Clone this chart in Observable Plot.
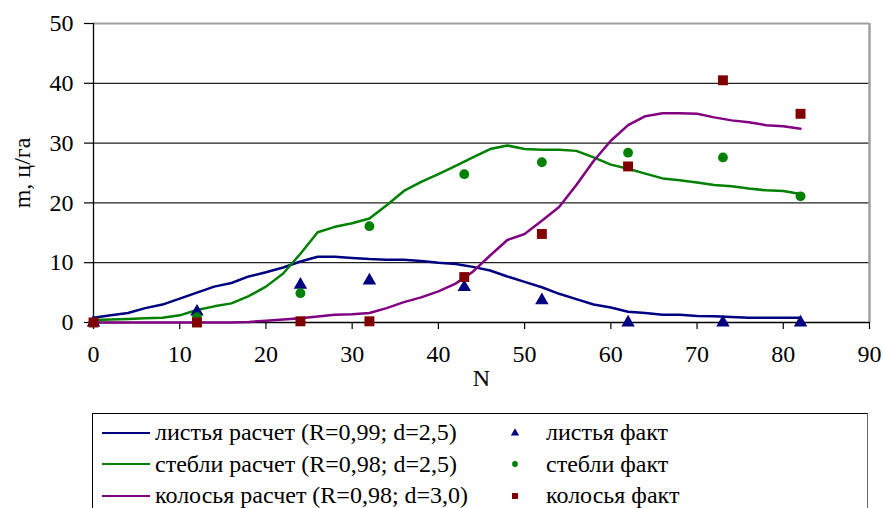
<!DOCTYPE html>
<html>
<head>
<meta charset="utf-8">
<script src="https://cdn.jsdelivr.net/npm/d3@7"></script>
<script src="https://cdn.jsdelivr.net/npm/@observablehq/plot@0.6"></script>
<style>
  html, body { margin: 0; padding: 0; background: #fff; }
  #wrap { position: relative; width: 883px; height: 508px; overflow: hidden; font-family: "Liberation Serif", "Times New Roman", serif; }
  #legend { position: absolute; left: 92px; top: 413px; width: 774px; height: 120px; border: 1px solid #000; border-right: 1px solid #666; box-sizing: content-box; padding-top: 3px; }
  .row { display: flex; align-items: center; height: 31.5px; font-size: 24px; color: #000; white-space: nowrap; }
  .ls { width: 48px; margin-left: 9px; margin-right: 5px; height: 0; border-top: 2.5px solid; }
  .lt { width: 350px; }
  .mk { width: 20px; display: flex; justify-content: center; }
  .mt { margin-left: 21px; }
</style>
</head>
<body>
<div id="wrap"><div id="chart"></div><div id="legend"></div></div>
<script>
// Calculated curves (N step 2)
const calcN = [0,2,4,6,8,10,12,14,16,18,20,22,24,26,28,30,32,34,36,38,40,42,44,46,48,50,52,54,56,58,60,62,64,66,68,70,72,74,76,78,80,82];
const leavesCalc = [0.8,1.2,1.6,2.4,3.0,4.0,5.0,6.0,6.6,7.7,8.4,9.2,10.2,11.0,11.0,10.8,10.6,10.5,10.5,10.3,10.0,9.8,9.3,8.7,7.7,6.8,5.9,4.8,3.9,3.0,2.5,1.8,1.6,1.3,1.3,1.1,1.05,0.9,0.8,0.8,0.8,0.8];
const stemsCalc = [0.4,0.5,0.6,0.7,0.8,1.2,2.1,2.7,3.2,4.4,6.0,8.2,11.5,15.1,16.0,16.6,17.4,19.6,22.0,23.5,24.8,26.2,27.6,29.0,29.6,29.0,28.9,28.9,28.7,27.6,26.4,25.7,24.9,24.1,23.8,23.4,23.0,22.8,22.4,22.1,22.0,21.5];
const earsCalc = [0,0,0,0,0,0,0,0,0,0.1,0.3,0.5,0.7,1.0,1.3,1.4,1.6,2.4,3.4,4.2,5.2,6.5,8.5,11.2,13.8,14.8,17.0,19.3,23.0,27.0,30.4,33.0,34.5,35.0,35.0,34.9,34.3,33.8,33.5,33.0,32.8,32.4];

// Measured points
const factN = [0,12,24,32,43,52,62,73,82];
const leavesFact = [0,1.8,6.3,7.0,5.9,3.7,0,0,0];
const stemsFact = [0,0.9,4.9,16.1,24.8,26.8,28.4,27.6,21.1];
const earsFact = [0,0,0.2,0.2,7.6,14.8,26.1,40.5,34.9];

const xTicks = [0,10,20,30,40,50,60,70,80,90];
const yTicks = [0,10,20,30,40,50];
const gridY = [10,20,30,40];

const calcNames = ["листья расчет (R=0,99; d=2,5)", "стебли расчет (R=0,98; d=2,5)", "колосья расчет (R=0,98; d=3,0)"];
const factNames = ["листья факт", "стебли факт", "колосья факт"];
const lineColors = ["#000080", "#008000", "#800080"];
const dotColors = ["#000080", "#008000", "#800000"];
const dotSymbols = ["triangle", "circle", "square"];
const dotR = [5, 4.9, 5.6];

const calcSeries = [leavesCalc, stemsCalc, earsCalc];
const factSeries = [leavesFact, stemsFact, earsFact];

const lineData = calcSeries.map(s => calcN.map((n, i) => ({N: n, m: s[i]})));
const dotData = factSeries.map(s => factN.map((n, i) => ({N: n, m: s[i]})));

const chart = Plot.plot({
  width: 883,
  height: 412,
  marginLeft: 93,
  marginRight: 14,
  marginTop: 23,
  marginBottom: 90,
  x: {domain: [0, 90]},
  y: {domain: [0, 50]},
  style: {fontFamily: "'Liberation Serif', 'Times New Roman', serif", fontSize: "24px", color: "#000", background: "#fff", overflow: "visible"},
  marks: [
    Plot.ruleY(gridY, {stroke: "#222", strokeWidth: 1.2}),
    Plot.ruleY([50], {stroke: "#a0a0a0", strokeWidth: 2}),
    Plot.ruleX([90], {stroke: "#a0a0a0", strokeWidth: 2.5}),
    Plot.ruleX([0], {stroke: "#000", strokeWidth: 1.3}),
    Plot.ruleY([0], {stroke: "#000", strokeWidth: 1.3}),
    Plot.axisX({ticks: xTicks, tickSize: 7, tickPadding: 15, label: "N", labelAnchor: "center", labelArrow: "none", labelOffset: 63, fontSize: 24, strokeWidth: 1.2}),
    Plot.axisY({ticks: yTicks, tickSize: 9, tickPadding: 11, label: "m, ц/га", labelAnchor: "center", labelArrow: "none", labelOffset: 81, fontSize: 24, strokeWidth: 1.2}),
    ...lineData.map((d, k) => Plot.line(d, {x: "N", y: "m", stroke: lineColors[k], strokeWidth: 2.5})),
    ...dotData.map((d, k) => Plot.dot(d, {x: "N", y: "m", symbol: dotSymbols[k], fill: dotColors[k], r: dotR[k], stroke: "none"}))
  ]
});
document.getElementById("chart").appendChild(chart);

// Legend
const legend = document.getElementById("legend");
for (let k = 0; k < 3; k++) {
  const row = document.createElement("div");
  row.className = "row";
  const ls = document.createElement("span"); ls.className = "ls"; ls.style.borderTopColor = lineColors[k];
  const lt = document.createElement("span"); lt.className = "lt"; lt.textContent = calcNames[k];
  const mk = document.createElement("span"); mk.className = "mk";
  const svg = d3.create("svg").attr("width", 14).attr("height", 14);
  const sym = {triangle: d3.symbolTriangle, circle: d3.symbolCircle, square: d3.symbolSquare}[dotSymbols[k]];
  svg.append("path").attr("transform", "translate(7,7)").attr("d", d3.symbol(sym, [30, 26, 36][k])()).attr("fill", dotColors[k]);
  mk.appendChild(svg.node());
  const mt = document.createElement("span"); mt.className = "mt"; mt.textContent = factNames[k];
  row.append(ls, lt, mk, mt);
  legend.appendChild(row);
}
</script>
</body>
</html>
